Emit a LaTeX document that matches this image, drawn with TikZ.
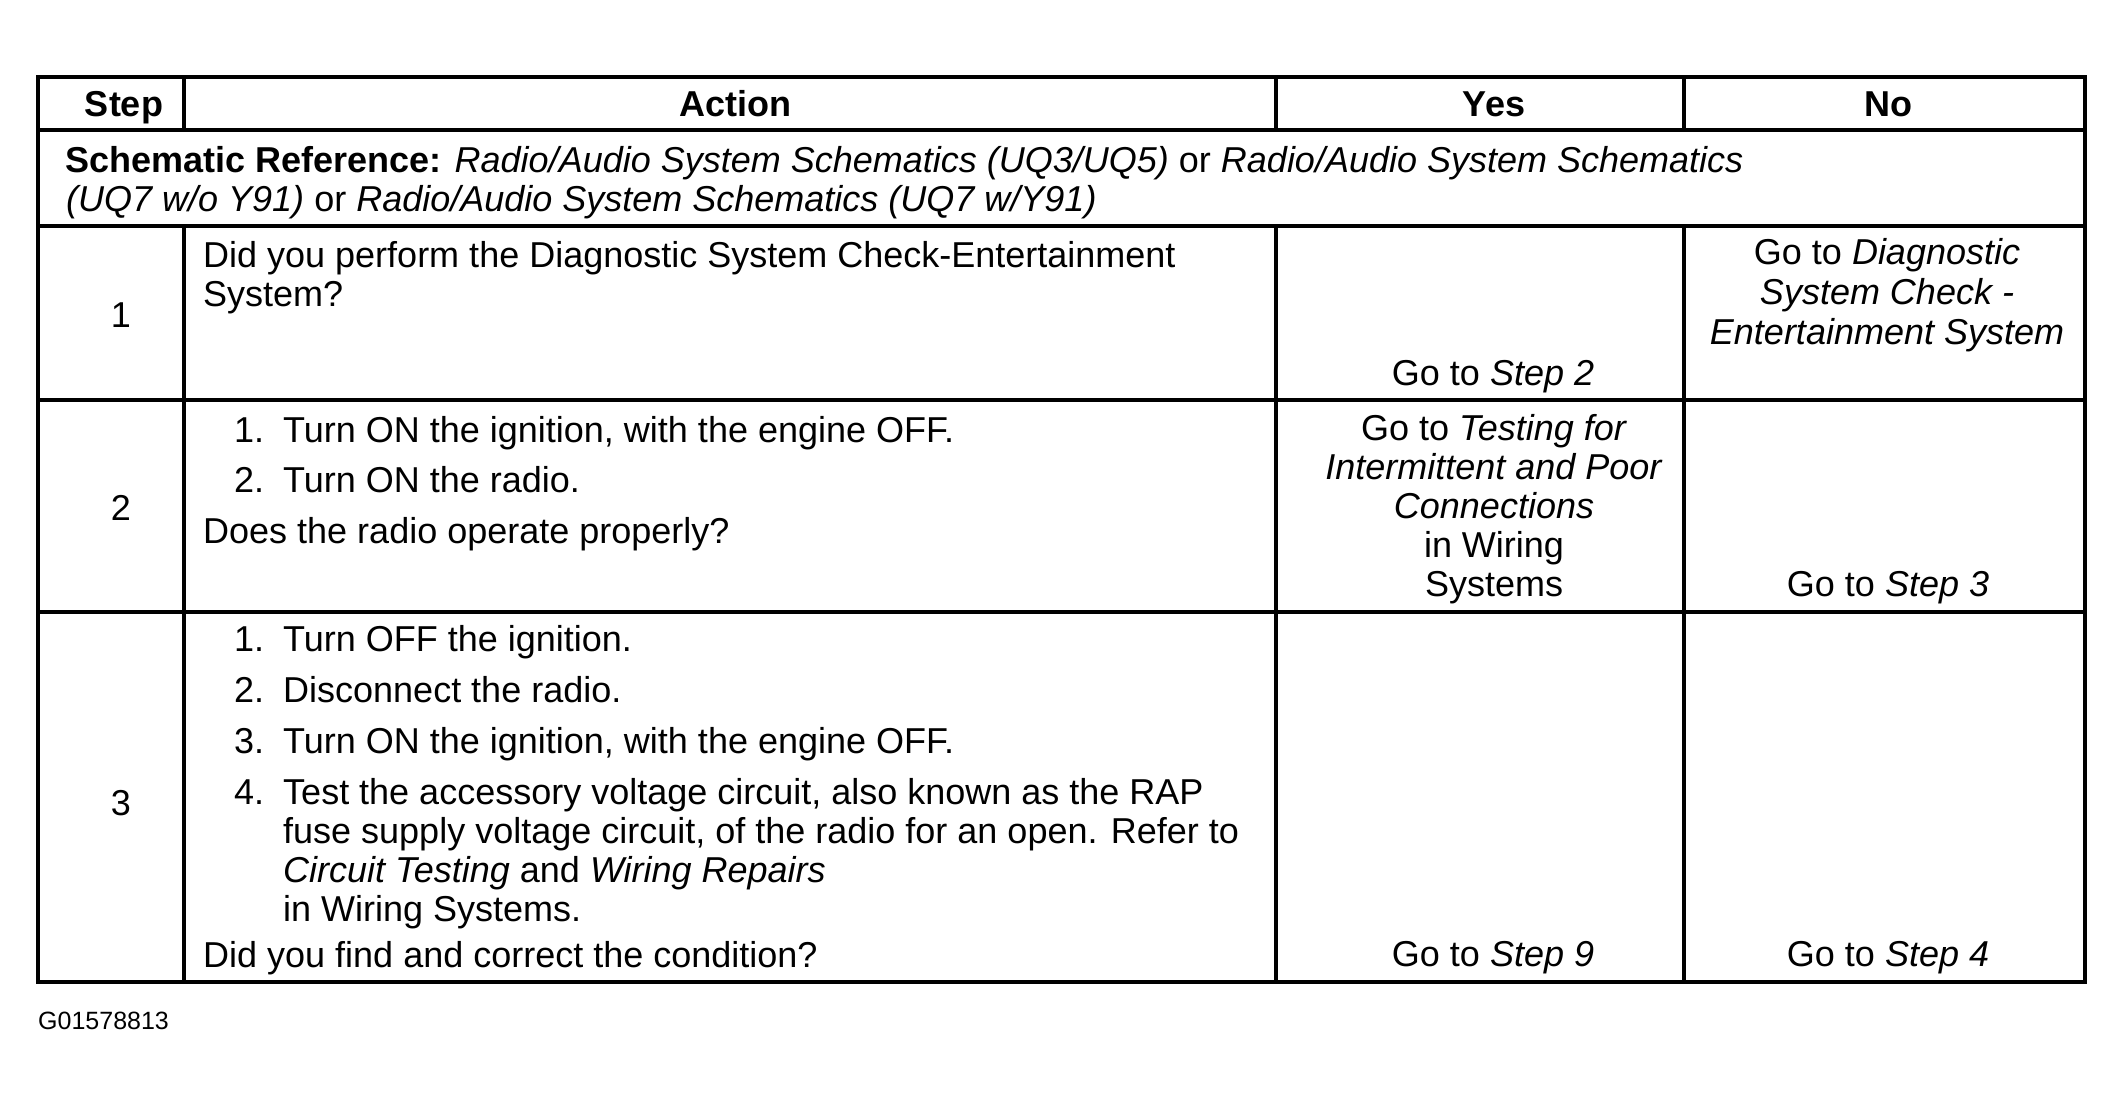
\documentclass[tikz,border=0pt]{standalone}
\usepackage{fontspec}
\setmainfont{Liberation Sans}
\begin{document}
\begin{tikzpicture}[x=1pt,y=-1pt,
  cell/.style={font=\fontsize{36}{40}\selectfont, inner sep=0pt, anchor=base west},
  ctr/.style={font=\fontsize{36}{40}\selectfont, inner sep=0pt, anchor=base},
  hdr/.style={font=\fontsize{36}{40}\selectfont\bfseries, inner sep=0pt, anchor=base},
  outer/.style={line width=4.2pt},
  inner/.style={line width=3.2pt}]
\useasboundingbox[fill=white] (0,0) rectangle (2124,1103);
% table lines
\coordinate (TL) at (38,77);
\coordinate (BR) at (2085,982);
\draw[inner] (38,130) -- (2085,130);
\draw[inner] (38,226) -- (2085,226);
\draw[inner] (38,400) -- (2085,400);
\draw[inner] (38,612) -- (2085,612);
\foreach \xx in {184,1276,1684}{
  \draw[inner] (\xx,77) -- (\xx,130);
  \draw[inner] (\xx,226) -- (\xx,982);
}
\draw[outer] (TL) rectangle (BR);
% header
\node[hdr] (hstep) at (124,116) {Step};
\node[hdr] (hact) at (735,116) {Action};
\node[hdr] (hyes) at (1494,116) {Yes};
\node[hdr] (hno) at (1888,116) {No};
% schematic reference
\node[cell] (sr1) at (65,172) {\textbf{Schematic Reference:} \textit{Radio/Audio System Schematics (UQ3/UQ5)} or \textit{Radio/Audio System Schematics}};
\node[cell] (sr2) at (66,211) {\textit{(UQ7 w/o Y91)} or \textit{Radio/Audio System Schematics (UQ7 w/Y91)}};
% row 1
\node[ctr] (s1) at (121,327) {1};
\node[cell] (a1a) at (203,267) {Did you perform the Diagnostic System Check-Entertainment};
\node[cell] (a1b) at (203,306) {System?};
\node[ctr] (y1) at (1493,385) {Go to \textit{Step 2}};
\node[ctr] (n1a) at (1887,264) {Go to \textit{Diagnostic}};
\node[ctr] (n1b) at (1887,304) {\textit{System Check -}};
\node[ctr] (n1c) at (1887,344) {\textit{Entertainment System}};
% row 2
\node[ctr] (s2) at (121,520) {2};
\node[cell] (a2n1) at (234,442) {1.};
\node[cell] (a2t1) at (283,442) {Turn ON the ignition, with the engine OFF.};
\node[cell] (a2n2) at (234,492) {2.};
\node[cell] (a2t2) at (283,492) {Turn ON the radio.};
\node[cell] (a2q) at (203,543) {Does the radio operate properly?};
\node[ctr] (y2a) at (1494,440) {Go to \textit{Testing for}};
\node[ctr] (y2b) at (1494,479) {\textit{Intermittent and Poor}};
\node[ctr] (y2c) at (1494,518) {\textit{Connections}};
\node[ctr] (y2d) at (1494,557) {in Wiring};
\node[ctr] (y2e) at (1494,596) {Systems};
\node[ctr] (n2) at (1888,596) {Go to \textit{Step 3}};
% row 3
\node[ctr] (s3) at (121,815) {3};
\node[cell] (a3n1) at (234,651) {1.};
\node[cell] (a3t1) at (283,651) {Turn OFF the ignition.};
\node[cell] (a3n2) at (234,702) {2.};
\node[cell] (a3t2) at (283,702) {Disconnect the radio.};
\node[cell] (a3n3) at (234,753) {3.};
\node[cell] (a3t3) at (283,753) {Turn ON the ignition, with the engine OFF.};
\node[cell] (a3n4) at (234,804) {4.};
\node[cell] (a3t4a) at (283,804) {Test the accessory voltage circuit, also known as the RAP};
\node[cell] (a3t4b) at (283,843) {fuse supply voltage circuit, of the radio for an open. Refer to};
\node[cell] (a3t4c) at (283,882) {\textit{Circuit Testing} and \textit{Wiring Repairs}};
\node[cell] (a3t4d) at (283,921) {in Wiring Systems.};
\node[cell] (a3q) at (203,967) {Did you find and correct the condition?};
\node[ctr] (y3) at (1493,966) {Go to \textit{Step 9}};
\node[ctr] (n3) at (1888,966) {Go to \textit{Step 4}};
% footer
\node[inner sep=0pt, anchor=base west, font=\fontsize{25}{28}\selectfont] (fig) at (38,1029) {G01578813};
\end{tikzpicture}
\end{document}
